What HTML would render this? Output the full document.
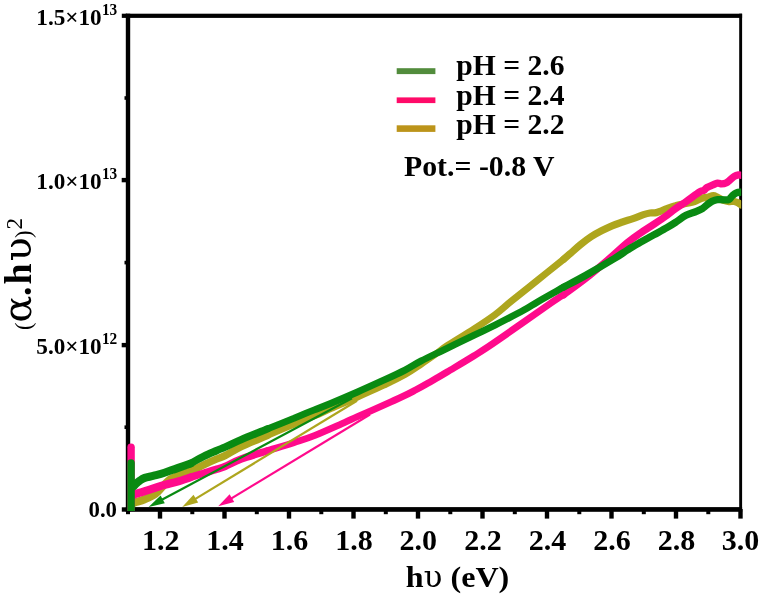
<!DOCTYPE html>
<html lang="en">
<head>
<meta charset="utf-8">
<title>Tauc plot</title>
<style>
  html, body { margin: 0; padding: 0; background: #ffffff; }
  body { width: 762px; height: 598px; overflow: hidden; }
  svg { display: block; will-change: transform; }
  text { font-family: "Liberation Serif", "DejaVu Serif", serif; font-weight: bold; fill: #000; }
  .reg { font-weight: normal; }
  .gk { font-family: "DejaVu Serif", "Liberation Serif", serif; font-weight: normal; }
</style>
</head>
<body>
<svg width="762" height="598" viewBox="0 0 762 598">
  <rect x="0" y="0" width="762" height="598" fill="#ffffff"/>

  <!-- ===== frame / axes ===== -->
  <g fill="#000">
    <!-- left -->
    <rect x="125.8" y="13.7" width="4.4" height="498.1"/>
    <!-- top -->
    <rect x="125.8" y="13.7" width="616.3" height="4.2"/>
    <!-- right -->
    <rect x="739.2" y="13.7" width="2.9" height="498.1"/>
    <!-- bottom -->
    <rect x="125.8" y="507.1" width="616.3" height="4.7"/>

    <!-- y major ticks -->
    <rect x="121.8" y="13.7"  width="5" height="4.2"/>
    <rect x="121.7" y="177.9" width="5" height="4.4"/>
    <rect x="121.7" y="342.9" width="5" height="4.4"/>
    <rect x="121.8" y="507.3" width="5" height="4.4"/>
    <!-- y minor ticks -->
    <rect x="124.5" y="96.2"  width="1.8" height="3.6"/>
    <rect x="124.5" y="260.8" width="1.8" height="3.6"/>
    <rect x="124.5" y="425.4" width="1.8" height="3.6"/>

    <!-- x major ticks -->
    <g id="xmaj">
      <rect x="157.8" y="509" width="4.4" height="9.6"/>
      <rect x="222.3" y="509" width="4.4" height="9.6"/>
      <rect x="286.8" y="509" width="4.4" height="9.6"/>
      <rect x="351.3" y="509" width="4.4" height="9.6"/>
      <rect x="415.8" y="509" width="4.4" height="9.6"/>
      <rect x="480.3" y="509" width="4.4" height="9.6"/>
      <rect x="544.8" y="509" width="4.4" height="9.6"/>
      <rect x="609.3" y="509" width="4.4" height="9.6"/>
      <rect x="673.8" y="509" width="4.4" height="9.6"/>
      <rect x="738.3" y="509" width="4.4" height="9.6"/>
    </g>
    <!-- x minor ticks -->
    <g id="xmin">
      <rect x="126"   y="509" width="4" height="5.2"/>
      <rect x="190.3" y="509" width="4" height="5.2"/>
      <rect x="254.8" y="509" width="4" height="5.2"/>
      <rect x="319.3" y="509" width="4" height="5.2"/>
      <rect x="383.8" y="509" width="4" height="5.2"/>
      <rect x="448.3" y="509" width="4" height="5.2"/>
      <rect x="512.8" y="509" width="4" height="5.2"/>
      <rect x="577.3" y="509" width="4" height="5.2"/>
      <rect x="641.8" y="509" width="4" height="5.2"/>
      <rect x="706.3" y="509" width="4" height="5.2"/>
    </g>
  </g>

  <!-- ===== data curves ===== -->
  <defs><clipPath id="plotclip"><rect x="127.2" y="17" width="614" height="494"/></clipPath></defs>
  <g fill="none" stroke-linejoin="round" stroke-linecap="round" clip-path="url(#plotclip)">
    <path stroke="#aea61e" stroke-width="8.0" d="M134.0,503.0 C134.2,502.9 133.7,502.8 135.5,502.2 C137.3,501.6 141.4,500.7 144.7,499.3 C148.0,497.9 152.1,496.2 155.2,494.0 C158.2,491.8 160.5,488.4 163.0,486.0 C165.5,483.6 167.6,481.2 170.0,479.5 C172.4,477.8 174.1,477.4 177.5,476.0 C180.9,474.6 188.4,472.2 190.6,471.4"/>
    <path stroke="#aea61e" stroke-width="7.5" d="M190.6,471.4 C192.8,470.3 199.3,466.9 203.7,464.8 C208.1,462.7 213.3,460.4 216.9,458.9 C220.5,457.4 220.9,457.7 225.0,455.6 C229.1,453.6 234.1,450.0 241.2,446.6 C248.3,443.2 263.1,437.3 267.5,435.4"/>
    <path stroke="#aea61e" stroke-width="6.9" d="M267.5,435.4 C271.9,433.5 285.8,427.6 293.7,424.3 C301.6,421.0 308.8,418.4 315.0,415.7 C321.2,413.0 324.1,411.5 331.2,408.4 C338.3,405.3 348.8,400.9 357.5,397.0 C366.2,393.1 375.8,388.9 383.7,385.2 C391.6,381.4 398.8,378.0 405.0,374.5 C411.2,371.0 416.2,367.3 421.2,364.0 C426.2,360.7 430.6,357.6 435.0,354.5 C439.4,351.4 441.1,349.7 447.5,345.5 C453.9,341.3 465.8,334.2 473.7,329.1 C481.6,324.0 488.8,319.3 495.0,314.7 C501.2,310.1 504.1,307.0 511.2,301.3 C518.3,295.6 528.8,287.3 537.5,280.3 C546.2,273.3 559.3,262.7 563.7,259.2"/>
    <path stroke="#aea61e" stroke-width="7.3" d="M563.7,259.2 C564.8,258.3 567.2,256.2 570.0,253.8 C572.8,251.4 577.0,247.4 580.5,244.6 C584.0,241.8 587.5,239.1 591.0,236.8 C594.5,234.5 598.0,232.6 601.5,230.8 C605.0,229.0 608.5,227.3 612.0,225.8 C615.5,224.3 619.0,223.2 622.5,222.0 C626.0,220.8 629.5,219.8 633.0,218.6 C636.5,217.4 640.7,215.5 643.5,214.6 C646.3,213.7 647.9,213.3 650.0,213.0 C652.1,212.7 653.6,213.3 656.4,212.6 C659.2,211.9 663.7,209.8 666.9,208.6 C670.1,207.4 672.3,206.5 675.5,205.7 C678.7,204.8 682.9,204.2 686.0,203.5 C689.1,202.8 691.8,202.4 694.4,201.5 C697.0,200.6 699.6,199.0 701.7,198.3 C703.8,197.6 705.1,197.7 707.0,197.3 C708.9,196.9 711.5,195.7 713.3,195.7 C715.0,195.7 715.8,196.5 717.5,197.3 C719.2,198.1 721.9,199.7 723.8,200.4 C725.7,201.1 727.2,201.3 729.0,201.5 C730.8,201.7 732.7,201.2 734.3,201.5 C735.9,201.8 737.4,202.4 738.5,203.0 C739.6,203.6 740.6,204.6 741.0,204.9"/>
    <path stroke="#ff0a8c" stroke-width="7.6" stroke-linecap="round" d="M131,447.3 L131,512"/>
    <path stroke="#ff0a8c" stroke-width="8.0" d="M134.0,495.0 C134.2,494.8 132.6,495.0 135.5,494.0 C138.4,493.0 146.4,490.6 151.2,489.1 C156.0,487.6 160.0,486.1 164.4,484.9 C168.8,483.6 173.1,482.9 177.5,481.6 C181.9,480.3 188.4,478.0 190.6,477.3"/>
    <path stroke="#ff0a8c" stroke-width="7.5" d="M190.6,477.3 C192.8,476.6 199.3,474.7 203.7,473.3 C208.1,471.9 213.3,470.2 216.9,469.1 C220.5,468.0 220.9,468.2 225.0,466.5 C229.1,464.8 234.1,461.6 241.2,459.0 C248.3,456.4 263.1,452.2 267.5,450.8"/>
    <path stroke="#ff0a8c" stroke-width="6.9" d="M267.5,450.8 C271.9,449.4 285.8,445.3 293.7,442.7 C301.6,440.1 306.6,438.8 315.0,435.4 C323.4,432.0 337.3,425.7 344.4,422.6 C351.5,419.5 350.9,419.6 357.5,416.7 C364.1,413.8 377.6,407.8 383.7,405.1 C389.8,402.4 390.4,402.1 394.0,400.5 C397.6,398.9 401.3,397.2 405.0,395.4 C408.7,393.6 412.5,391.6 416.0,389.8 C419.5,388.0 422.7,386.2 426.0,384.3 C429.3,382.4 432.4,380.7 436.0,378.6 C439.6,376.5 441.2,375.6 447.5,371.8 C453.8,368.0 465.8,360.9 473.7,356.0 C481.6,351.1 482.2,351.0 495.0,342.2 C507.8,333.4 539.1,311.1 550.6,303.2 C562.1,295.3 561.5,296.1 563.7,294.7"/>
    <path stroke="#ff0a8c" stroke-width="7.3" d="M563.7,294.7 C567.2,292.1 577.6,284.8 585.0,279.0 C592.4,273.2 600.7,266.1 607.8,260.0 C614.9,253.9 622.0,247.0 627.5,242.5 C633.0,238.0 636.2,235.9 640.6,232.9 C645.0,229.9 649.3,227.3 653.7,224.4 C658.1,221.5 663.4,218.0 666.9,215.4 C670.4,212.8 671.8,211.3 675.0,209.0 C678.2,206.7 682.4,204.2 686.0,201.7 C689.6,199.2 694.0,195.8 696.5,194.1 C699.0,192.3 699.5,191.8 700.7,191.2 C702.0,190.6 703.0,190.9 704.0,190.3 C705.0,189.7 705.6,188.3 707.0,187.5 C708.4,186.7 710.5,185.9 712.2,185.2 C714.0,184.5 715.9,183.3 717.5,183.1 C719.1,182.9 720.3,183.9 721.7,183.9 C723.1,183.9 724.5,183.8 725.9,183.1 C727.3,182.4 728.7,181.0 730.1,179.9 C731.5,178.8 732.9,177.1 734.3,176.3 C735.7,175.5 737.4,175.1 738.5,174.9 C739.6,174.7 740.6,175.1 741.0,175.2"/>
    <path stroke="#098a12" stroke-width="7.6" stroke-linecap="round" d="M131,463 L131,512"/>
    <path stroke="#098a12" stroke-width="8.0" d="M134.0,486.0 C134.2,485.7 134.5,485.1 135.5,484.2 C136.5,483.3 138.5,481.6 140.0,480.5 C141.5,479.4 142.4,478.7 144.7,477.9 C147.0,477.1 150.6,476.6 153.9,475.7 C157.2,474.8 160.5,474.0 164.4,472.7 C168.3,471.4 173.1,469.6 177.5,468.1 C181.9,466.6 188.4,464.3 190.6,463.5"/>
    <path stroke="#098a12" stroke-width="7.5" d="M190.6,463.5 C192.8,462.3 199.3,458.6 203.7,456.4 C208.1,454.2 213.3,452.1 216.9,450.5 C220.5,448.9 220.9,448.9 225.0,447.1 C229.1,445.3 234.1,442.6 241.2,439.6 C248.3,436.6 263.1,430.7 267.5,428.9"/>
    <path stroke="#098a12" stroke-width="6.9" d="M267.5,428.9 C271.9,427.1 287.4,420.9 293.7,418.4 C299.9,415.8 301.4,415.1 305.0,413.6 C308.6,412.1 310.6,411.3 315.0,409.6 C319.4,407.9 324.1,406.1 331.2,403.2 C338.3,400.3 348.8,395.8 357.5,392.0 C366.2,388.2 375.8,383.8 383.7,380.2 C391.6,376.6 398.8,373.3 405.0,370.1 C411.2,366.9 414.1,364.6 421.2,360.9 C428.3,357.2 438.8,352.4 447.5,348.1 C456.2,343.8 465.8,339.1 473.7,335.3 C481.6,331.5 486.6,329.4 495.0,325.2 C503.4,320.9 517.3,313.7 524.4,309.8 C531.5,305.9 531.0,305.7 537.5,301.9 C544.0,298.1 559.3,289.6 563.7,287.1"/>
    <path stroke="#098a12" stroke-width="7.3" d="M563.7,287.1 C567.2,285.2 576.5,280.5 585.0,275.7 C593.5,270.9 607.3,262.8 614.4,258.5 C621.5,254.2 623.1,252.7 627.5,250.0 C631.9,247.3 636.2,244.6 640.6,242.1 C645.0,239.6 649.3,237.3 653.7,234.9 C658.1,232.5 663.3,229.8 666.9,227.7 C670.5,225.6 672.3,224.5 675.5,222.4 C678.7,220.3 682.5,217.1 686.0,215.3 C689.5,213.5 693.7,212.6 696.5,211.4 C699.3,210.2 701.0,209.4 702.8,208.3 C704.5,207.2 705.4,206.0 707.0,204.8 C708.6,203.6 710.5,202.1 712.2,201.2 C714.0,200.3 715.6,199.8 717.5,199.6 C719.4,199.4 721.9,199.9 723.8,199.9 C725.7,199.9 727.6,200.1 729.0,199.4 C730.4,198.7 731.0,197.0 732.2,195.9 C733.4,194.8 734.9,193.4 736.4,192.8 C737.9,192.2 740.2,192.3 741.0,192.2"/>
  </g>

  <!-- ===== extrapolation arrows ===== -->
  <line x1="352.0" y1="398.3" x2="160.9" y2="500.3" stroke="#098a12" stroke-width="2.2"/>
  <polygon points="148.6,506.9 164.8,503.3 160.6,495.4" fill="#098a12"/>
  <line x1="357.0" y1="400.8" x2="194.2" y2="499.6" stroke="#aea61e" stroke-width="2.2"/>
  <polygon points="182.2,506.9 198.2,502.4 193.5,494.8" fill="#aea61e"/>
  <line x1="370.0" y1="414.5" x2="230.2" y2="499.1" stroke="#ff0a8c" stroke-width="2.2"/>
  <polygon points="218.2,506.3 234.2,501.9 229.6,494.2" fill="#ff0a8c"/>

  <!-- ===== y tick labels ===== -->
  <g font-size="23.8" text-anchor="end">
    <text transform="translate(117.3,24.6) scale(0.975,1)">1.5×10<tspan font-size="15.8" dy="-9.8" dx="0.2">13</tspan></text>
    <text transform="translate(117.3,189.2) scale(0.975,1)">1.0×10<tspan font-size="15.8" dy="-9.8" dx="0.2">13</tspan></text>
    <text transform="translate(117.3,353.9) scale(0.975,1)">5.0×10<tspan font-size="15.8" dy="-9.8" dx="0.2">12</tspan></text>
    <text transform="translate(117,516.6) scale(0.96,1)">0.0</text>
  </g>

  <!-- ===== x tick labels ===== -->
  <g font-size="30" text-anchor="middle">
    <text x="160.7" y="549.8">1.2</text>
    <text x="225" y="549.8">1.4</text>
    <text x="289.5" y="549.8">1.6</text>
    <text x="354" y="549.8">1.8</text>
    <text x="418.3" y="549.8">2.0</text>
    <text x="483" y="549.8">2.2</text>
    <text x="547.5" y="549.8">2.4</text>
    <text x="612" y="549.8">2.6</text>
    <text x="676.5" y="549.8">2.8</text>
    <text x="740.5" y="549.8">3.0</text>
  </g>

  <!-- ===== axis titles ===== -->
  <text transform="translate(457.5,586.5) scale(1.07,1)" font-size="30" text-anchor="middle">h<tspan class="gk" font-size="29">υ</tspan> (eV)</text>

  <text transform="translate(30.6,0) rotate(-90)" font-size="38"><tspan x="-330" font-size="22.4" class="reg">(</tspan><tspan x="-322.7" font-size="40" class="gk">α</tspan><tspan x="-296">.</tspan><tspan x="-284.5">h</tspan><tspan x="-261.6" font-size="40" class="gk">υ</tspan><tspan x="-238.1" font-size="22.4" class="reg">)</tspan><tspan x="-229.5" dy="-9" font-size="23" class="reg">2</tspan></text>

  <!-- ===== legend ===== -->
  <g>
    <rect x="396.7" y="68.2"  width="38.7" height="5.9" fill="#528c3c"/>
    <rect x="396.7" y="97.4"  width="38.7" height="5.7" fill="#ff0a68"/>
    <rect x="396.7" y="125.3" width="38.7" height="6.6" fill="#bc941a"/>
  </g>
  <g font-size="29.6">
    <text x="456.3" y="75.3">pH = 2.6</text>
    <text x="456.3" y="104.8">pH = 2.4</text>
    <text x="456.3" y="133.6">pH = 2.2</text>
  </g>
  <text x="404" y="175.7" font-size="29.8">Pot.= -0.8 V</text>
</svg>
</body>
</html>
